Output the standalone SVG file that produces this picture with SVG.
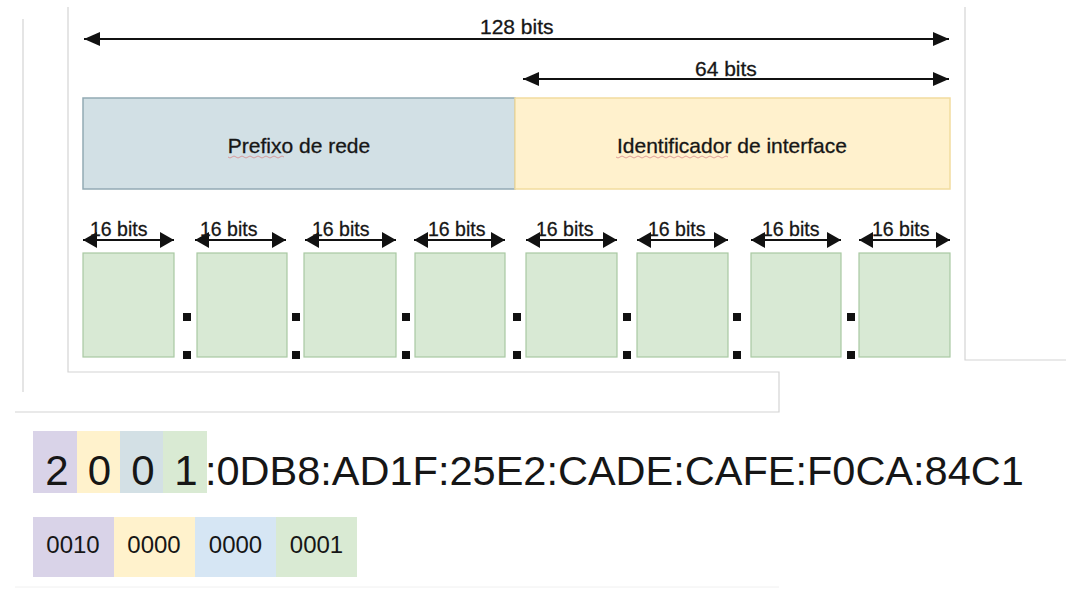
<svg xmlns="http://www.w3.org/2000/svg" width="1066" height="590" viewBox="0 0 1066 590">
<defs>
<style>
text{font-family:"Liberation Sans",Arial,sans-serif;fill:#161616}
.panel{stroke:#d4d4d4;stroke-width:1.2;fill:none}
.green{fill:#d8e9d4;stroke:#a9c9a2;stroke-width:1.2}
.dot{fill:#111}
.arr{stroke:#111;stroke-width:2;fill:none}
.big{marker-start:url(#hb);marker-end:url(#hb)}
.sm{marker-start:url(#hs);marker-end:url(#hs)}
.lbl{font-size:21px;stroke:#161616;stroke-width:0.3}
.lbl16{font-size:19.5px;stroke:#161616;stroke-width:0.3}
.mid{text-anchor:middle}
.squig{fill:none;stroke:#d98b8b;stroke-width:1;opacity:0.8}
</style>
<marker id="hb" markerUnits="userSpaceOnUse" markerWidth="17" markerHeight="15" refX="16" refY="7" orient="auto-start-reverse">
<path d="M0,0 L16,7 L0,14 z" fill="#111"/>
</marker>
<marker id="hs" markerUnits="userSpaceOnUse" markerWidth="15" markerHeight="17" refX="14" refY="8" orient="auto-start-reverse">
<path d="M0,0 L14,8 L0,16 z" fill="#111"/>
</marker>
</defs>
<rect width="1066" height="590" fill="#ffffff"/>

<g id="frames">
<line class="panel" x1="23" y1="19" x2="23" y2="392"/>
<polyline class="panel" points="68,7 68,372 779,372 779,412 15,412"/>
<polyline class="panel" points="965,7 965,360 1066,360"/>
<line x1="15" y1="587" x2="779" y2="587" stroke="#f0f0f0" stroke-width="1"/>
</g>

<g id="connectors">
<line class="arr big" x1="84" y1="39" x2="949" y2="39"/>
<line class="arr big" x1="523" y1="79" x2="949" y2="79"/>
<line class="arr sm" x1="83" y1="240" x2="174" y2="240"/>
<line class="arr sm" x1="195" y1="240" x2="286" y2="240"/>
<line class="arr sm" x1="305" y1="240" x2="396" y2="240"/>
<line class="arr sm" x1="414" y1="240" x2="505" y2="240"/>
<line class="arr sm" x1="526" y1="240" x2="617" y2="240"/>
<line class="arr sm" x1="637" y1="240" x2="728" y2="240"/>
<line class="arr sm" x1="751" y1="240" x2="841" y2="240"/>
<line class="arr sm" x1="859" y1="240" x2="950" y2="240"/>
<text class="lbl" x="480" y="34">128 bits</text>
<text class="lbl" x="695" y="76">64 bits</text>
<text class="lbl16" x="90" y="236">16 bits</text>
<text class="lbl16" x="200" y="236">16 bits</text>
<text class="lbl16" x="312" y="236">16 bits</text>
<text class="lbl16" x="428" y="236">16 bits</text>
<text class="lbl16" x="536" y="236">16 bits</text>
<text class="lbl16" x="648" y="236">16 bits</text>
<text class="lbl16" x="762" y="236">16 bits</text>
<text class="lbl16" x="872" y="236">16 bits</text>
</g>

<g id="prefixo">
<rect x="83" y="98" width="432" height="91" fill="#d2e0e5" stroke="#93aab4" stroke-width="1.5"/>
<text class="lbl mid" x="299" y="153">Prefixo de rede</text>
<path class="squig" d="M228,157 q2,2 4,0 t4,0 t4,0 t4,0 t4,0 t4,0 t4,0 t4,0 t4,0 t4,0 t4,0 t4,0 t4,0 t4,0"/>
</g>
<g id="identificador">
<rect x="515" y="98" width="435" height="91" fill="#fff1cd" stroke="#f2dc9e" stroke-width="1.5"/>
<text class="lbl mid" x="732" y="153">Identificador de interface</text>
<path class="squig" d="M616,157 q2,2 4,0 t4,0 t4,0 t4,0 t4,0 t4,0 t4,0 t4,0 t4,0 t4,0 t4,0 t4,0 t4,0 t4,0 t4,0 t4,0 t4,0 t4,0 t4,0 t4,0 t4,0 t4,0 t4,0 t4,0 t4,0 t4,0 t4,0 t4,0"/>
</g>

<g id="block1"><rect class="green" x="83" y="253" width="91" height="104"/></g>
<g id="block2"><rect class="green" x="197" y="253" width="90" height="104"/></g>
<g id="block3"><rect class="green" x="304" y="253" width="92" height="104"/></g>
<g id="block4"><rect class="green" x="415" y="253" width="90" height="104"/></g>
<g id="block5"><rect class="green" x="526" y="253" width="91" height="104"/></g>
<g id="block6"><rect class="green" x="637" y="253" width="91" height="104"/></g>
<g id="block7"><rect class="green" x="751" y="253" width="90" height="104"/></g>
<g id="block8"><rect class="green" x="859" y="253" width="91" height="104"/></g>

<g id="colons">
<rect class="dot" x="183" y="313" width="8" height="8"/><rect class="dot" x="183" y="351" width="8" height="8"/>
<rect class="dot" x="292" y="313" width="8" height="8"/><rect class="dot" x="292" y="351" width="8" height="8"/>
<rect class="dot" x="402" y="313" width="8" height="8"/><rect class="dot" x="402" y="351" width="8" height="8"/>
<rect class="dot" x="513" y="313" width="8" height="8"/><rect class="dot" x="513" y="351" width="8" height="8"/>
<rect class="dot" x="623" y="313" width="8" height="8"/><rect class="dot" x="623" y="351" width="8" height="8"/>
<rect class="dot" x="733" y="313" width="8" height="8"/><rect class="dot" x="733" y="351" width="8" height="8"/>
<rect class="dot" x="847" y="313" width="8" height="8"/><rect class="dot" x="847" y="351" width="8" height="8"/>
</g>

<g id="endereco">
<rect x="33" y="431" width="44" height="62" fill="#d9d3e8"/>
<rect x="77" y="431" width="43" height="62" fill="#fff2cc"/>
<rect x="120" y="431" width="43" height="62" fill="#d3e0e5"/>
<rect x="163" y="431" width="44" height="62" fill="#d9ead3"/>
<text class="mid" x="57" y="485" font-size="42">2</text>
<text class="mid" x="99.5" y="485" font-size="42">0</text>
<text class="mid" x="143" y="485" font-size="42">0</text>
<text class="mid" x="186" y="485" font-size="42">1</text>
<text x="205" y="485" font-size="41.5">:0DB8:AD1F:25E2:CADE:CAFE:F0CA:84C1</text>
</g>

<g id="binario">
<rect x="33" y="517" width="81" height="60" fill="#d9d3e8"/>
<rect x="114" y="517" width="81" height="60" fill="#fff2cc"/>
<rect x="195" y="517" width="81" height="60" fill="#d6e6f4"/>
<rect x="276" y="517" width="81" height="60" fill="#d9ead3"/>
<text class="mid" x="73" y="553" font-size="24">0010</text>
<text class="mid" x="154" y="553" font-size="24">0000</text>
<text class="mid" x="235.5" y="553" font-size="24">0000</text>
<text class="mid" x="316.5" y="553" font-size="24">0001</text>
</g>
</svg>
